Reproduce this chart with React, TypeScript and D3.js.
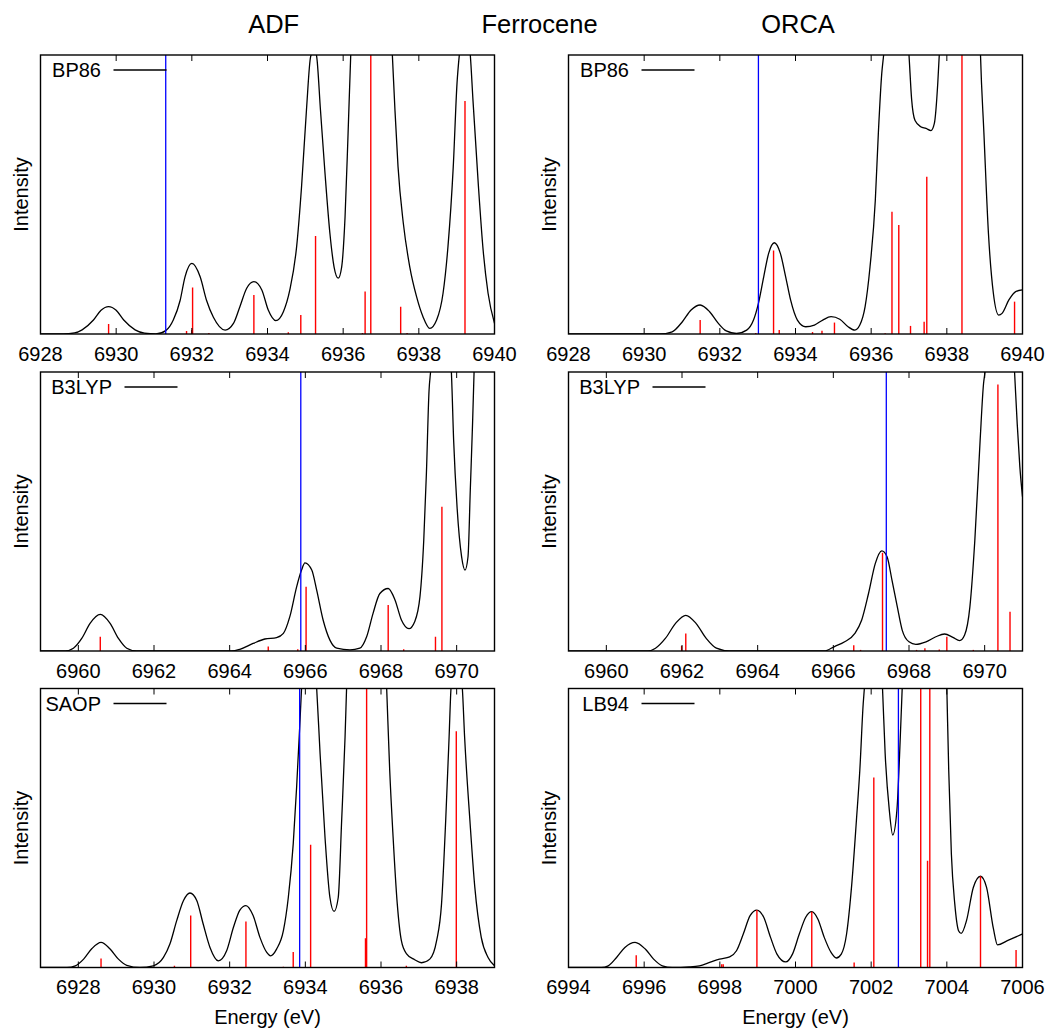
import React from "react";
import * as d3 from "d3";

type Pt = [number, number];

// ---------- text ----------
const figureTitle = "Ferrocene";
const columnTitles = ["ADF", "ORCA"];
const xAxisLabel = "Energy (eV)";
const yAxisLabel = "Intensity";
const methodLabels = ["BP86", "BP86", "B3LYP", "B3LYP", "SAOP", "LB94"];

// ---------- x domains (eV) ----------
const domainBp86: [number, number] = [6928, 6940];
const domainB3lyp: [number, number] = [6959, 6971];
const domainSaop: [number, number] = [6927, 6939];
const domainLb94: [number, number] = [6994, 7006];

// ---------- ADF BP86 ----------
const adfBp86Curve: Pt[] = [
  [6928.0, 0], [6928.6, 0], [6928.9, 0.4], [6929.1, 1.5], [6929.4, 5], [6929.6, 8.5], [6929.8, 9.8],
  [6930.0, 8.5], [6930.2, 5], [6930.5, 1.5], [6930.75, 0.3], [6931.05, 0], [6931.31, 1.2], [6931.51, 5],
  [6931.69, 12], [6931.82, 20.5], [6932.0, 25.3], [6932.22, 20.5], [6932.39, 12], [6932.57, 6],
  [6932.88, 1.4], [6933.1, 3.8], [6933.27, 9.8], [6933.45, 16.4], [6933.64, 18.8], [6933.85, 15.8],
  [6934.02, 8.6], [6934.22, 4.8], [6934.42, 8], [6934.59, 15.8], [6934.77, 31.3], [6934.9, 52.8],
  [6935.03, 80.3], [6935.14, 99.4], [6935.24, 102], [6935.3, 99.4], [6935.4, 80.3], [6935.52, 57.6],
  [6935.65, 36], [6935.76, 24], [6935.87, 20], [6935.96, 24], [6936.05, 42], [6936.13, 72],
  [6936.2, 100], [6936.4, 150], [6936.75, 175], [6937.1, 150], [6937.3, 100], [6937.37, 80],
  [6937.45, 60], [6937.59, 39.7], [6937.76, 24.1], [6937.94, 13.4], [6938.11, 6.2], [6938.29, 2],
  [6938.47, 5], [6938.64, 14.6], [6938.77, 31.3], [6938.91, 60], [6939.01, 90], [6939.07, 100],
  [6939.22, 112], [6939.36, 100], [6939.43, 84], [6939.57, 54], [6939.7, 30], [6939.83, 14.6],
  [6940.0, 3.8],
];
const adfBp86Sticks: Pt[] = [
  [6929.8, 3.6], [6931.86, 1.1], [6932.0, 1.4], [6932.02, 16.7], [6932.45, 0.4], [6933.64, 14],
  [6934.55, 0.6], [6934.88, 6.8], [6935.27, 35.1], [6936.51, 0.4], [6936.58, 15.2], [6936.73, 150],
  [6937.52, 9.8], [6937.69, 0.4], [6939.22, 83.5],
];
const adfBp86Marker = 6931.31;

// ---------- ORCA BP86 ----------
const orcaBp86Curve: Pt[] = [
  [6928, 0], [6930.4, 0], [6930.74, 0.8], [6931.01, 4.4], [6931.24, 8.6], [6931.48, 10.4],
  [6931.73, 8], [6931.95, 4], [6932.17, 1.1], [6932.44, 0.2], [6932.71, 1.4], [6932.89, 5],
  [6933.02, 11], [6933.16, 20.5], [6933.29, 28.9], [6933.44, 32.7], [6933.6, 28.9], [6933.74, 20.5],
  [6933.87, 12.2], [6934.05, 5], [6934.27, 2.6], [6934.5, 3.2], [6934.72, 5], [6934.94, 6.2],
  [6935.17, 5.3], [6935.39, 2.6], [6935.57, 1.4], [6935.7, 3.2], [6935.84, 9.8], [6935.97, 24.1],
  [6936.11, 48], [6936.19, 72], [6936.28, 93.4], [6936.33, 100], [6936.6, 140], [6936.85, 130],
  [6937.0, 100], [6937.07, 84], [6937.16, 76.5], [6937.31, 74.3], [6937.45, 73.7], [6937.58, 72.9],
  [6937.67, 75.5], [6937.76, 89.8], [6937.8, 100], [6938.1, 250], [6938.4, 320], [6938.7, 250],
  [6938.89, 100], [6938.98, 72], [6939.1, 36], [6939.23, 14.6], [6939.37, 6.8], [6939.46, 7.4],
  [6939.64, 12.2], [6939.82, 15.2], [6940, 15.8],
];
const orcaBp86Sticks: Pt[] = [
  [6931.48, 5], [6932.95, 0.4], [6933.42, 29.9], [6933.57, 1.4], [6934.45, 0.7], [6934.7, 1.2],
  [6935.03, 4.1], [6936.37, 0.3], [6936.55, 43.8], [6936.73, 39.1], [6937.04, 2.9], [6937.4, 4.4],
  [6937.47, 56.4], [6938.4, 300], [6939.79, 11.6],
];
const orcaBp86Marker = 6933.02;

// ---------- ADF B3LYP ----------
const adfB3lypCurve: Pt[] = [
  [6959, 0], [6959.65, 0], [6959.87, 1.0], [6960.09, 4.5], [6960.31, 9.9], [6960.58, 13.1],
  [6960.84, 9.9], [6961.06, 4.5], [6961.28, 1.0], [6961.54, 0], [6964.05, 0], [6964.27, 0.6],
  [6964.62, 2.7], [6964.93, 4.3], [6965.24, 4.8], [6965.42, 6.3], [6965.59, 12.3], [6965.77, 23],
  [6965.9, 29], [6965.99, 31.6], [6966.17, 29], [6966.3, 21.8], [6966.47, 11.1], [6966.65, 3.9],
  [6966.83, 1.0], [6967.18, 0.4], [6967.44, 1.0], [6967.62, 5.1], [6967.79, 13.5], [6967.97, 20.6],
  [6968.19, 22.4], [6968.37, 18.3], [6968.54, 11.1], [6968.74, 8.0], [6968.89, 10.5], [6969.03, 19.5],
  [6969.13, 39.7], [6969.2, 63.6], [6969.27, 93.4], [6969.31, 100], [6969.58, 140], [6969.86, 100],
  [6969.92, 75.5], [6970.01, 51.7], [6970.13, 33.8], [6970.22, 29], [6970.3, 33.8], [6970.36, 57.6],
  [6970.42, 81.5], [6970.46, 100], [6970.7, 170], [6971, 250],
];
const adfB3lypSticks: Pt[] = [
  [6960.58, 5.1], [6965.02, 1.6], [6965.8, 0.6], [6966.02, 23], [6968.19, 16.5], [6968.6, 0.6],
  [6969.44, 5.1], [6969.61, 51.7],
];
const adfB3lypMarker = 6965.88;

// ---------- ORCA B3LYP ----------
const orcaB3lypCurve: Pt[] = [
  [6959, 0], [6961.1, 0], [6961.3, 1.0], [6961.56, 4.5], [6961.83, 9.9], [6962.1, 12.8],
  [6962.37, 9.9], [6962.64, 4.5], [6962.91, 1.0], [6963.26, 0], [6965.76, 0], [6966.03, 1.6],
  [6966.3, 3.3], [6966.57, 6.3], [6966.75, 11.1], [6966.93, 20.6], [6967.11, 31.4], [6967.28, 35.9],
  [6967.42, 33.8], [6967.55, 25.4], [6967.69, 15.9], [6967.82, 7.5], [6968.0, 3.3], [6968.18, 2.4],
  [6968.45, 3.3], [6968.71, 5.1], [6968.94, 6.1], [6969.16, 4.9], [6969.34, 3.7], [6969.47, 5.7],
  [6969.61, 15.9], [6969.74, 39.7], [6969.88, 75.5], [6969.97, 95.8], [6970.01, 100], [6970.4, 190],
  [6970.79, 100], [6970.86, 81.5], [6970.93, 66], [6971, 55.3],
];
const orcaB3lypSticks: Pt[] = [
  [6961.99, 1.8], [6962.1, 6.3], [6966.54, 2.1], [6966.72, 0.4], [6967.3, 35.2], [6968.2, 0.4],
  [6968.42, 1.0], [6968.8, 0.5], [6969.0, 5.1], [6969.7, 0.4], [6970.35, 95.5], [6970.67, 14.1],
];
const orcaB3lypMarker = 6967.4;

// ---------- ADF SAOP ----------
const adfSaopCurve: Pt[] = [
  [6927, 0], [6927.7, 0], [6927.92, 0.6], [6928.14, 3.0], [6928.36, 6.8], [6928.6, 9.0],
  [6928.84, 6.6], [6929.06, 3.0], [6929.28, 0.8], [6929.63, 0], [6929.98, 0.6], [6930.25, 3.6],
  [6930.42, 8.4], [6930.6, 16.8], [6930.78, 24], [6930.95, 26.7], [6931.13, 24], [6931.3, 15.6],
  [6931.48, 7.2], [6931.7, 2.4], [6931.92, 6.0], [6932.1, 14.4], [6932.27, 20.6], [6932.43, 22.2],
  [6932.62, 18.6], [6932.8, 10.8], [6932.98, 5.4], [6933.08, 4.2], [6933.24, 6.6], [6933.42, 13.2],
  [6933.55, 25.1], [6933.68, 44.3], [6933.77, 64.7], [6933.86, 88.6], [6933.9, 100], [6934.1, 125],
  [6934.3, 100], [6934.39, 76.6], [6934.52, 46.7], [6934.65, 25.1], [6934.76, 20.1], [6934.87, 25.1],
  [6934.96, 52.7], [6935.05, 82.6], [6935.09, 100], [6935.6, 260], [6936.15, 100], [6936.23, 70.7],
  [6936.32, 46.7], [6936.43, 22.8], [6936.54, 9.5], [6936.67, 5.0], [6936.89, 2.8], [6937.07, 1.7],
  [6937.29, 3.0], [6937.47, 9.6], [6937.6, 22.8], [6937.71, 52.7], [6937.8, 82.6], [6937.85, 100],
  [6938.0, 115], [6938.15, 100], [6938.21, 82.6], [6938.35, 52.7], [6938.48, 28.7], [6938.65, 10.8],
  [6938.83, 3.6], [6939, 0.6],
];
const adfSaopSticks: Pt[] = [
  [6928.6, 3.2], [6930.54, 0.6], [6930.97, 18.6], [6932.43, 16.5], [6933.42, 0.3], [6933.68, 5.6],
  [6934.14, 44], [6935.59, 10.5], [6935.62, 200], [6936.67, 0.6], [6937.99, 84.7],
];
const adfSaopMarker = 6933.85;

// ---------- ORCA LB94 ----------
const orcaLb94Curve: Pt[] = [
  [6994, 0], [6994.87, 0], [6995.05, 0.6], [6995.27, 3.6], [6995.49, 7.2], [6995.76, 9.0],
  [6996.03, 6.6], [6996.25, 3.0], [6996.48, 0.6], [6996.74, 0], [6997.19, 0.2], [6997.46, 0.6],
  [6997.73, 1.8], [6997.99, 3.0], [6998.26, 3.8], [6998.44, 6.0], [6998.62, 12.0], [6998.8, 18.6],
  [6998.98, 20.6], [6999.16, 18.0], [6999.34, 10.8], [6999.51, 4.8], [6999.74, 2.0], [6999.92, 4.8],
  [7000.1, 12.0], [7000.27, 18.0], [7000.43, 20.0], [7000.59, 17.4], [7000.76, 10.8], [7000.94, 5.4],
  [7001.08, 3.4], [7001.21, 4.8], [7001.35, 12.0], [7001.48, 28.7], [7001.61, 52.7], [7001.7, 70.7],
  [7001.79, 94.6], [7001.82, 100], [7002.05, 140], [7002.3, 100], [7002.37, 76.6], [7002.48, 56.3],
  [7002.57, 47.5], [7002.68, 56.3], [7002.77, 82.6], [7002.82, 100], [7003.4, 320], [7004.0, 100],
  [7004.05, 70.7], [7004.12, 40.7], [7004.21, 22.8], [7004.31, 13.2], [7004.38, 12.2], [7004.52, 16.8],
  [7004.7, 28.7], [7004.89, 32.7], [7005.05, 28.7], [7005.23, 14.0], [7005.34, 8.1], [7005.6, 9.6],
  [7006, 12.0],
];
const orcaLb94Sticks: Pt[] = [
  [6995.79, 4.4], [6998.05, 1.2], [6998.09, 1.2], [6998.98, 20.6], [7000.43, 20], [7001.55, 1.8],
  [7002.07, 68.1], [7003.31, 300], [7003.49, 38.3], [7003.55, 300], [7004.89, 32.7], [7005.83, 6.3],
];
const orcaLb94Marker = 7002.72;

// ---------- panel assembly ----------
const panels = [
  { label: methodLabels[0], domain: domainBp86, curve: adfBp86Curve, sticks: adfBp86Sticks, marker: adfBp86Marker, col: 0, row: 0 },
  { label: methodLabels[1], domain: domainBp86, curve: orcaBp86Curve, sticks: orcaBp86Sticks, marker: orcaBp86Marker, col: 1, row: 0 },
  { label: methodLabels[2], domain: domainB3lyp, curve: adfB3lypCurve, sticks: adfB3lypSticks, marker: adfB3lypMarker, col: 0, row: 1 },
  { label: methodLabels[3], domain: domainB3lyp, curve: orcaB3lypCurve, sticks: orcaB3lypSticks, marker: orcaB3lypMarker, col: 1, row: 1 },
  { label: methodLabels[4], domain: domainSaop, curve: adfSaopCurve, sticks: adfSaopSticks, marker: adfSaopMarker, col: 0, row: 2 },
  { label: methodLabels[5], domain: domainLb94, curve: orcaLb94Curve, sticks: orcaLb94Sticks, marker: orcaLb94Marker, col: 1, row: 2 },
];

// ---------- layout ----------
const WIDTH = 1050;
const HEIGHT = 1030;
const COL_X = [40.5, 568.5];
const ROW_Y = [55, 372, 688.5];
const PW = 454;
const PH = 279;
const FONT = "'Liberation Sans', Arial, Helvetica, sans-serif";

type PanelDef = (typeof panels)[number];

function Panel({ p }: { p: PanelDef }) {
  const x0 = COL_X[p.col];
  const y0 = ROW_Y[p.row];
  const x = d3.scaleLinear().domain(p.domain).range([x0, x0 + PW]);
  const y = d3.scaleLinear().domain([0, 100]).range([y0 + PH, y0]);
  const line = d3
    .line<Pt>()
    .x((d) => x(d[0]))
    .y((d) => y(d[1]))
    .curve(d3.curveMonotoneX);
  const ticks = x.ticks(6);
  const clipId = `clip-${p.col}-${p.row}`;
  const textEnd = 60.5 + (p.label.length - 4) * 11;
  const lineStart = textEnd + 12.5;
  return (
    <g>
      <defs>
        <clipPath id={clipId}>
          <rect x={x0} y={y0} width={PW} height={PH} />
        </clipPath>
      </defs>
      <g clipPath={`url(#${clipId})`}>
        <path d={line(p.curve) || ""} fill="none" stroke="#000" strokeWidth={1.3} />
        {p.sticks.map((s, i) => (
          <line key={i} x1={x(s[0])} x2={x(s[0])} y1={y(0)} y2={y(s[1])} stroke="#ff0000" strokeWidth={1.4} />
        ))}
        <line x1={x(p.marker)} x2={x(p.marker)} y1={y0} y2={y0 + PH} stroke="#0000ff" strokeWidth={1.3} />
      </g>
      {ticks.map((t) => (
        <g key={t}>
          <line x1={x(t)} x2={x(t)} y1={y0 + PH} y2={y0 + PH - 6} stroke="#000" strokeWidth={1} />
          <line x1={x(t)} x2={x(t)} y1={y0} y2={y0 + 6} stroke="#000" strokeWidth={1} />
          <text x={x(t)} y={y0 + PH + 26.7} textAnchor="middle" fontSize={20} fontFamily={FONT} fill="#000">
            {d3.format("d")(t)}
          </text>
        </g>
      ))}
      <rect x={x0} y={y0} width={PW} height={PH} fill="none" stroke="#000" strokeWidth={1.4} />
      <text x={x0 + textEnd} y={y0 + 22.3} textAnchor="end" fontSize={20} fontFamily={FONT} fill="#000">
        {p.label}
      </text>
      <line x1={x0 + lineStart} x2={x0 + lineStart + 53} y1={y0 + 15} y2={y0 + 15} stroke="#000" strokeWidth={1.3} />
      <text
        transform={`translate(${x0 - 12.5},${y0 + PH / 2}) rotate(-90)`}
        textAnchor="middle"
        fontSize={20}
        fontFamily={FONT}
        fill="#000"
      >
        {yAxisLabel}
      </text>
      {p.row === 2 && (
        <text x={x0 + PW / 2} y={1024} textAnchor="middle" fontSize={20} fontFamily={FONT} fill="#000">
          {xAxisLabel}
        </text>
      )}
    </g>
  );
}

export default function App() {
  return (
    <svg
      width={WIDTH}
      height={HEIGHT}
      viewBox={`0 0 ${WIDTH} ${HEIGHT}`}
      style={{ position: "absolute", left: 0, top: 0, display: "block", background: "#fff" }}
    >
      <rect x={0} y={0} width={WIDTH} height={HEIGHT} fill="#fff" />
      <text x={273.7} y={33.3} textAnchor="middle" fontSize={25.5} fontFamily={FONT} fill="#000">
        {columnTitles[0]}
      </text>
      <text x={539.5} y={33.3} textAnchor="middle" fontSize={25.5} fontFamily={FONT} fill="#000">
        {figureTitle}
      </text>
      <text x={798} y={33.3} textAnchor="middle" fontSize={25.5} fontFamily={FONT} fill="#000">
        {columnTitles[1]}
      </text>
      {panels.map((p, i) => (
        <Panel key={i} p={p} />
      ))}
    </svg>
  );
}
